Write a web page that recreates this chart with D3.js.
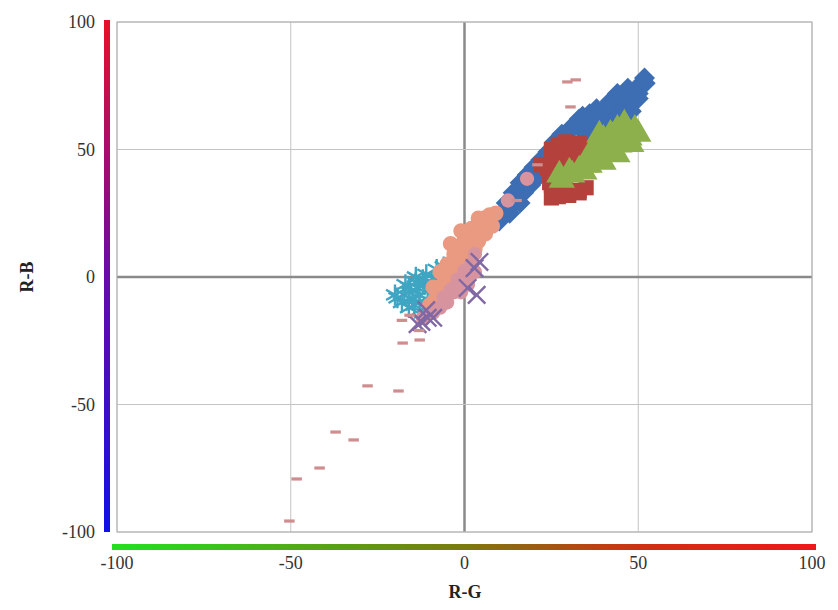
<!DOCTYPE html>
<html>
<head>
<meta charset="utf-8">
<script src="https://cdn.jsdelivr.net/npm/d3@7"></script>
<style>
  body { margin: 0; background: #fff; }
  text { font-family: "Liberation Serif", "Times New Roman", serif; }
</style>
</head>
<body>
<script>
// tick values for both axes
var ticks = [-100, -50, 0, 50, 100];

// series, [R-G, R-B]
var blueDiamonds = [[51.8,78],[49.8,74.5],[47,71],[44.6,69.4],[42.3,66.3],[38.8,63.5],[36,61.6],[33,60.4],
  [30.2,57.6],[27.3,53.7],[25.9,50.6],[23.6,45.9],[21.6,42],[18.7,38],[16.4,34.9],[13.8,28.2],[11.5,25.5],
  [40.5,62],[45.5,65],[48.5,70],[43,67.5],[37.5,60],[34.5,58.5],[29,55],[22.5,43.5],[20,40],
  [10,22],[13,25],[15,31],[17,33],[19,36],[21,39],[24,41],[26,47],[28,51],[30,53],[31,59],[35,56],
  [37,58],[39,60],[41,64],[44,63],[46,67],[48,65],[50,72],[51,75],[47,74],[45,71],[33,62],[36,64],
  [7,21],[9,23.5],[14,30],[16,29],[30,57],[32,60],[34,63],[38,66],[42,69],[44,72],[40,66],[36,62],
  [28,56],[26,53],[24,49],[22,46],[20,43],[18,40],[16,37],[14,33],[12,29],[46,64],[50,70],[52,76]];
var redSquares = [[25.9,32],[28.8,33.3],[33,34],[23.9,42.7],[27.3,49.8],[30.2,50.6],[34.5,51],[36,49.8],
  [32,46],[26,45],[29,36],[31,52.5],[24.5,37],[25,50],[27,52],[29,53],[31,51],[33,52.5],[35,50],
  [26,47],[24,43],[28,45],[22,44],[25,31],[27,31.5],[30,32],[33,33],[35,35],[25,36],[28,38]];
var greenTriangles = [[27.3,40],[30.2,41.2],[36,43.9],[38.8,46.7],[41.7,49.8],[44.6,51.8],[47.5,54.5],
  [48.9,57.6],[46,58.4],[38.8,55.7],[34.5,41.2],[42.5,54],[40,51],[28,38],[31,40],[33,42],[35,44],
  [37,46],[39,49],[41,51],[43,53],[45,55],[47,56],[49,58],[46,60],[44,58],[42,56],[40,54],[38,52],
  [36,48],[50,56],[48,52],[44,48],[40,45]];
var purpleX = [[0.9,-4.3],[2.9,3.5],[4.3,5.9],[-10.6,-16],[-12.4,-17.6],[-13.5,-18.5],[3.5,-7],
  [-9,-16],[-11,-13]];
var cyanStars = [[-19.3,-8.2],[-17.3,-7],[-15.8,-5.9],[-13.5,-4.3],[-11.5,-3.1],[-9.5,-2],[-7.8,-0.4],
  [-6,2],[-4.3,2.7],[-12.9,-9.8],[-10.6,-9],[-8.6,-7],[-7.2,-5.9],[-14.4,-11],[-16,-4],[-12,-1],
  [-18,-10],[-15,-9],[-13,-7],[-10,-5],[-8,-3],[-6,-1],[-11,-12],[-9,-10],[-5,0],[-14,-2],
  [-20,-7],[-17,-3],[-14,0],[-11,1],[-8,3],[-6,4],[-3,5],[-16,-12],[-12,-14],[-7,-8]];
var orangeCircles = [[-2.9,6.7],[-1.4,10.6],[0,14.5],[1.4,17.6],[2.9,19.2],[4.3,21.6],[5.8,23.1],[7.2,24.3],
  [-2,3.5],[-0.9,5.9],[0.9,8.6],[2,12.5],[-3.7,0.8],[-5.8,-2],[-7.2,-5.1],[-10,-11],[-8.6,-9],[-1,1],[1,4],
  [-6,-4],[-4,-1],[-3,3],[-1,6],[0,9],[1,12],[2,15],[3,18],[5,21],[7,23],[9,25],[-7,2],[-5,5],[-3,9],
  [-2,12],[0,16],[2,19],[4,23],[3,11],[4,14],[6,17],[8,20],[-8,-8],[-9,-4],[-4,13],[-1,18]];
var greyPlus = [[7.2,14.5],[8.6,18.4],[10,21.6],[6,12],[9.5,16],[11.5,20],[5,16.5],[5,27],[7,27],
  [3,25],[12,23],[8,10]];
var pinkCircles = [[-1,-3],[1,0],[0,2.5],[-2,-1],[2,5],[-4,-5],[-6,-8],[-9,-14],[3,9],[12.5,30],[18,38.5],
  [-1,-6],[1,-3],[3,2],[-3,-6],[-5,-10],[-7,-12],[-12,-16],[0,-1]];
var pinkDashes = [[-50.4,-95.7],[-48.3,-79.2],[-41.7,-74.9],[-37.1,-60.8],[-31.9,-63.9],[-27.9,-42.7],
  [-19,-44.7],[-17.8,-25.9],[-12.9,-24.7],[29.6,76.5],[32,77.3],[30.5,66.7],[-18,-17],[-15.8,-15],
  [-13,-21],[15,30],[21,44]];

var width = 838,
    height = 610;

var svg = d3.select("body")
    .append("svg")
    .attr("width", width)
    .attr("height", height);

var x = d3.scaleLinear().domain([-100, 100]).range([117, 812]);
var y = d3.scaleLinear().domain([-100, 100]).range([532, 22]);

//gradients for the colour bars
var defs = svg.append("defs");
var gv = defs.append("linearGradient").attr("id", "gv")
    .attr("x1", 0).attr("y1", 0).attr("x2", 0).attr("y2", 1);
gv.append("stop").attr("offset", "0%").attr("stop-color", "#e8102a");
gv.append("stop").attr("offset", "50%").attr("stop-color", "#6a0aa8");
gv.append("stop").attr("offset", "100%").attr("stop-color", "#1010e8");
var gh = defs.append("linearGradient").attr("id", "gh");
gh.append("stop").attr("offset", "0%").attr("stop-color", "#22e022");
gh.append("stop").attr("offset", "50%").attr("stop-color", "#7a7a10");
gh.append("stop").attr("offset", "75%").attr("stop-color", "#d03010");
gh.append("stop").attr("offset", "100%").attr("stop-color", "#ee1818");

//grid
svg.append("g").selectAll("line.v").data(ticks).enter().append("line")
    .attr("x1", d => x(d)).attr("x2", d => x(d))
    .attr("y1", y(100)).attr("y2", y(-100))
    .attr("stroke", d => d === 0 ? "#8a8a8a" : "#c4c4c4")
    .attr("stroke-width", d => d === 0 ? 2.5 : 1);
svg.append("g").selectAll("line.h").data(ticks).enter().append("line")
    .attr("y1", d => y(d)).attr("y2", d => y(d))
    .attr("x1", x(-100)).attr("x2", x(100))
    .attr("stroke", d => d === 0 ? "#8a8a8a" : "#c4c4c4")
    .attr("stroke-width", d => d === 0 ? 2.5 : 1);

//colour bars along the axes
svg.append("rect").attr("x", 104).attr("y", y(100) - 2).attr("width", 6)
    .attr("height", y(-100) - y(100) + 2).attr("fill", "url(#gv)");
svg.append("rect").attr("x", 112).attr("y", 544).attr("width", 704)
    .attr("height", 6).attr("fill", "url(#gh)");

//tick labels
svg.append("g").selectAll("text").data(ticks).enter().append("text")
    .attr("x", 95).attr("y", d => y(d) + 6)
    .attr("text-anchor", "end").attr("font-size", 18).attr("fill", "#333")
    .text(d => d);
svg.append("g").selectAll("text").data(ticks).enter().append("text")
    .attr("x", d => x(d)).attr("y", 569)
    .attr("text-anchor", "middle").attr("font-size", 18).attr("fill", "#333")
    .text(d => d);

svg.append("text").attr("x", 465).attr("y", 598).attr("text-anchor", "middle")
    .attr("font-size", 18).attr("font-weight", "bold").attr("fill", "#222").text("R-G");
svg.append("text").attr("transform", "translate(33,277) rotate(-90)").attr("text-anchor", "middle")
    .attr("font-size", 18).attr("font-weight", "bold").attr("fill", "#222").text("R-B");

//marker helper
function drawSeries(data, shape, size, fill, stroke, rotate) {
    var sym = d3.symbol().type(shape).size(size);
    svg.append("g").selectAll("path").data(data).enter().append("path")
        .attr("d", sym)
        .attr("transform", d => "translate(" + x(d[0]) + "," + y(d[1]) + ")" + (rotate ? " rotate(45)" : ""))
        .attr("fill", fill)
        .attr("stroke", stroke || "none")
        .attr("stroke-width", stroke ? 2.4 : 0);
}

var dash = { draw: function(ctx, s) { var w = Math.sqrt(s); ctx.rect(-w / 2, -1.6, w, 3.2); } };

drawSeries(blueDiamonds, d3.symbolSquare, 220, "#3d6eb4", null, true);
drawSeries(redSquares, d3.symbolSquare, 230, "#b5413c");
drawSeries(greenTriangles, d3.symbolTriangle, 300, "#8db04c");
drawSeries(cyanStars, d3.symbolAsterisk, 300, "none", "#3ea5c2");
drawSeries(orangeCircles, d3.symbolCircle, 190, "#e99a80");
drawSeries(pinkCircles, d3.symbolCircle, 160, "#d8949e");
drawSeries(purpleX, d3.symbolTimes, 200, "none", "#8068a4");
drawSeries(greyPlus, d3.symbolPlus, 150, "#a8a8b4");
drawSeries(pinkDashes, dash, 110, "#cf8d8f");

//plot border
svg.append("rect").attr("x", x(-100)).attr("y", y(100))
    .attr("width", x(100) - x(-100)).attr("height", y(-100) - y(100))
    .attr("fill", "none").attr("stroke", "#b0b0b0");
</script>
</body>
</html>
